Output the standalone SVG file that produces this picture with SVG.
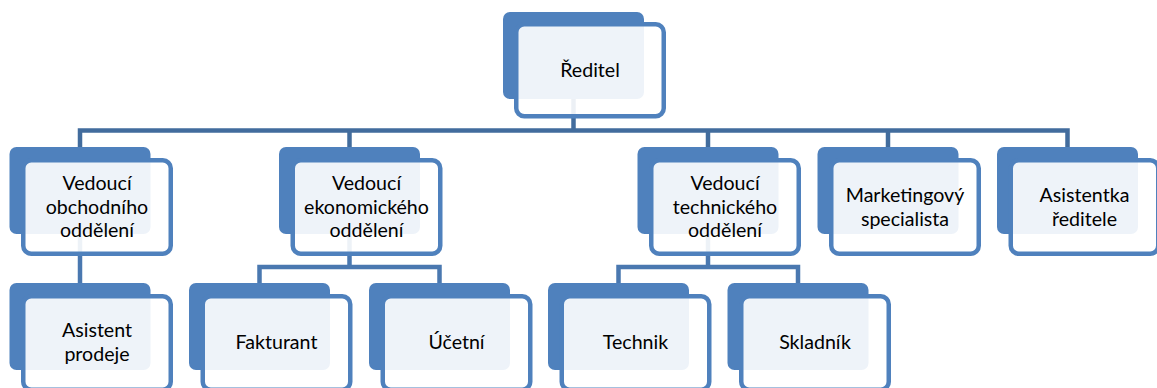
<svg xmlns="http://www.w3.org/2000/svg" width="1157" height="388" viewBox="0 0 1157 388">
  <style>
    .back { fill: #4F81BD; }
    .frame { fill: #FFFFFF; fill-opacity: 0.9; stroke: #4F81BD; stroke-width: 4.5; }
    .conn { fill: none; stroke: #426C9D; stroke-width: 4.5; stroke-linejoin: miter; }
    .conn2 { fill: none; stroke: #4A78B0; stroke-width: 4.5; stroke-linejoin: miter; }
    text { font-family: Lato, "Noto Sans", "Liberation Sans", sans-serif; font-size: 19.6px; fill: #000000; text-anchor: middle; }
  </style>

  <!-- connectors sit behind the node frames -->
  <g id="connectors">
    <path class="conn" d="M573.5 99 V130.5"/>
    <path class="conn" d="M80 147 V130.5 H1067.5 V147"/>
    <path class="conn" d="M349.5 130.5 V147"/>
    <path class="conn" d="M708 130.5 V147"/>
    <path class="conn" d="M888 130.5 V147"/>
    <path class="conn2" d="M80 234 V283"/>
    <path class="conn2" d="M349.5 234 V267"/>
    <path class="conn2" d="M259.5 283 V267 H439.5 V283"/>
    <path class="conn2" d="M708 234 V267"/>
    <path class="conn2" d="M618.5 283 V267 H798 V283"/>
  </g>

  <g id="reditel">
    <rect class="back" x="503" y="12" width="141" height="87" rx="7"/>
    <rect class="frame" x="516.25" y="24.25" width="147.5" height="92" rx="8"/>
    <text x="590" y="77">Ředitel</text>
  </g>

  <g id="vedouci-obchodniho">
    <rect class="back" x="9.5" y="147" width="141" height="87" rx="7"/>
    <rect class="frame" x="23.25" y="160.25" width="147.5" height="93.5" rx="8"/>
    <text x="97" y="190">Vedoucí</text>
    <text x="97" y="213.5">obchodního</text>
    <text x="97" y="237">oddělení</text>
  </g>

  <g id="vedouci-ekonomickeho">
    <rect class="back" x="279" y="147" width="141" height="87" rx="7"/>
    <rect class="frame" x="292.75" y="160.25" width="147.5" height="93.5" rx="8"/>
    <text x="366.5" y="190">Vedoucí</text>
    <text x="366.5" y="213.5">ekonomického</text>
    <text x="366.5" y="237">oddělení</text>
  </g>

  <g id="vedouci-technickeho">
    <rect class="back" x="637.5" y="147" width="141" height="87" rx="7"/>
    <rect class="frame" x="651.25" y="160.25" width="147.5" height="93.5" rx="8"/>
    <text x="725" y="190">Vedoucí</text>
    <text x="725" y="213.5">technického</text>
    <text x="725" y="237">oddělení</text>
  </g>

  <g id="marketingovy-specialista">
    <rect class="back" x="817.5" y="147" width="141" height="87" rx="7"/>
    <rect class="frame" x="831.25" y="160.25" width="147.5" height="93.5" rx="8"/>
    <text x="905" y="202">Marketingový</text>
    <text x="905" y="225.5">specialista</text>
  </g>

  <g id="asistentka-reditele">
    <rect class="back" x="997" y="147" width="141" height="87" rx="7"/>
    <rect class="frame" x="1010.75" y="160.25" width="147.5" height="93.5" rx="8"/>
    <text x="1084.5" y="202">Asistentka</text>
    <text x="1084.5" y="225.5">ředitele</text>
  </g>

  <g id="asistent-prodeje">
    <rect class="back" x="9.5" y="283" width="141" height="87" rx="7"/>
    <rect class="frame" x="23.25" y="296.25" width="147.5" height="93.5" rx="8"/>
    <text x="97" y="337">Asistent</text>
    <text x="97" y="360.5">prodeje</text>
  </g>

  <g id="fakturant">
    <rect class="back" x="189" y="283" width="141" height="87" rx="7"/>
    <rect class="frame" x="202.75" y="296.25" width="147.5" height="93.5" rx="8"/>
    <text x="276.5" y="349">Fakturant</text>
  </g>

  <g id="ucetni">
    <rect class="back" x="369" y="283" width="141" height="87" rx="7"/>
    <rect class="frame" x="382.75" y="296.25" width="147.5" height="93.5" rx="8"/>
    <text x="456.5" y="349">Účetní</text>
  </g>

  <g id="technik">
    <rect class="back" x="548" y="283" width="141" height="87" rx="7"/>
    <rect class="frame" x="561.75" y="296.25" width="147.5" height="93.5" rx="8"/>
    <text x="635.5" y="349">Technik</text>
  </g>

  <g id="skladnik">
    <rect class="back" x="727.5" y="283" width="141" height="87" rx="7"/>
    <rect class="frame" x="741.25" y="296.25" width="147.5" height="93.5" rx="8"/>
    <text x="815" y="349">Skladník</text>
  </g>
</svg>
